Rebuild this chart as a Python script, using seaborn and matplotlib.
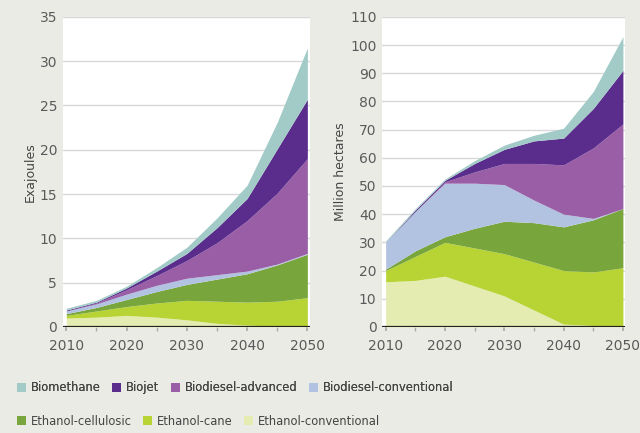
import numpy as np
import seaborn as sns
import matplotlib.pyplot as plt
from matplotlib.patches import Patch

# Years on the x axis (5-year steps)
years = [2010, 2015, 2020, 2025, 2030, 2035, 2040, 2045, 2050]

# Series names, bottom of the stack first
series = ["Ethanol-conventional", "Ethanol-cane", "Ethanol-cellulosic",
          "Biodiesel-conventional", "Biodiesel-advanced", "Biojet", "Biomethane"]

# Left panel: energy, exajoules (per-series values)
ej_ethanol_conv = [1.0, 1.1, 1.3, 1.1, 0.8, 0.4, 0.2, 0.1, 0.1]
ej_ethanol_cane = [0.3, 0.7, 1.0, 1.6, 2.2, 2.5, 2.6, 2.8, 3.2]
ej_ethanol_cell = [0.2, 0.4, 0.8, 1.3, 1.8, 2.5, 3.2, 4.1, 4.9]
ej_biodiesel_conv = [0.3, 0.4, 0.6, 0.7, 0.7, 0.5, 0.3, 0.1, 0.1]
ej_biodiesel_adv = [0.0, 0.1, 0.5, 1.1, 2.0, 3.6, 5.7, 8.0, 10.7]
ej_biojet = [0.1, 0.1, 0.2, 0.5, 0.8, 1.7, 2.5, 5.0, 6.7]
ej_biomethane = [0.2, 0.2, 0.2, 0.4, 0.7, 1.1, 1.5, 3.0, 5.8]

# Right panel: land use, million hectares
ha_ethanol_conv = [16, 16.5, 18, 14.5, 11, 6, 1, 0.5, 0.5]
ha_ethanol_cane = [4, 8.5, 12, 13.5, 15, 17, 19, 19, 20.5]
ha_ethanol_cell = [0.5, 2, 2, 7, 11.5, 14, 15.5, 18.5, 21]
ha_biodiesel_conv = [9.5, 14, 19, 16, 13, 8, 4.5, 0.5, 0]
ha_biodiesel_adv = [0, 0, 0.5, 4, 7.5, 13, 17.5, 25, 30]
ha_biojet = [0, 0.5, 0.5, 3, 5, 8, 9.5, 14, 19]
ha_biomethane = [0.5, 0.5, 0.5, 1, 1.5, 2, 3.5, 6, 12]

colors = ["#e4ecb2", "#b7d434", "#78a63c", "#b2c3e1", "#9a5ea7", "#5a2d8c", "#a2cbc8"]

sns.set_theme(style="whitegrid")
plt.rcParams["font.family"] = ["DejaVu Sans"]

bg = "#ebebe6"
fig = plt.figure(figsize=(6.4, 4.33), dpi=100, facecolor=bg)
ax1 = fig.add_axes([0.098, 0.245, 0.386, 0.716])
ax2 = fig.add_axes([0.597, 0.245, 0.38, 0.716])

panels = [
    (ax1, [ej_ethanol_conv, ej_ethanol_cane, ej_ethanol_cell, ej_biodiesel_conv,
           ej_biodiesel_adv, ej_biojet, ej_biomethane], 35, 5, "Exajoules"),
    (ax2, [ha_ethanol_conv, ha_ethanol_cane, ha_ethanol_cell, ha_biodiesel_conv,
           ha_biodiesel_adv, ha_biojet, ha_biomethane], 110, 10, "Million hectares"),
]

for ax, vals, ymax, ystep, ylab in panels:
    ax.set_facecolor("white")
    ax.stackplot(years, *vals, colors=colors, linewidth=0)
    ax.set_xlim(2009.4, 2050.4)
    ax.set_ylim(0, ymax)
    ax.set_yticks(np.arange(0, ymax + 1, ystep))
    ax.set_xticks([2010, 2020, 2030, 2040, 2050])
    ax.set_xticks(years, minor=True)
    ax.grid(axis="y", color="#d8d8d8", linewidth=1)
    ax.grid(axis="x", visible=False)
    ax.set_axisbelow(True)
    ax.axhline(0, color="#222222", linewidth=1.6, zorder=5)
    for s in ax.spines.values():
        s.set_visible(False)
    ax.tick_params(axis="both", labelsize=10, labelcolor="#5a5a5a", length=0, pad=4)
    ax.tick_params(axis="x", which="both", bottom=True, length=3, color="#aaaaaa", pad=6)
    ax.set_ylabel(ylab, fontsize=9, color="#444444", labelpad=2)

# Two-row legend at the bottom
handles = [Patch(facecolor=c, edgecolor="none") for c in colors]
order_row1 = [6, 5, 4, 3]
order_row2 = [2, 1, 0]
leg1 = fig.legend([handles[i] for i in order_row1], [series[i] for i in order_row1],
                  loc="lower left", bbox_to_anchor=(0.01, 0.065), ncol=4, frameon=False,
                  fontsize=8.3, handlelength=0.8, handleheight=0.8, handletextpad=0.4,
                  columnspacing=1.0, labelcolor="#444444")
leg2 = fig.legend([handles[i] for i in order_row2], [series[i] for i in order_row2],
                  loc="lower left", bbox_to_anchor=(0.01, -0.012), ncol=3, frameon=False,
                  fontsize=8.3, handlelength=0.8, handleheight=0.8, handletextpad=0.4,
                  columnspacing=1.0, labelcolor="#444444")
fig.add_artist(leg1)

fig.savefig("out.png", dpi=100, facecolor=bg)
